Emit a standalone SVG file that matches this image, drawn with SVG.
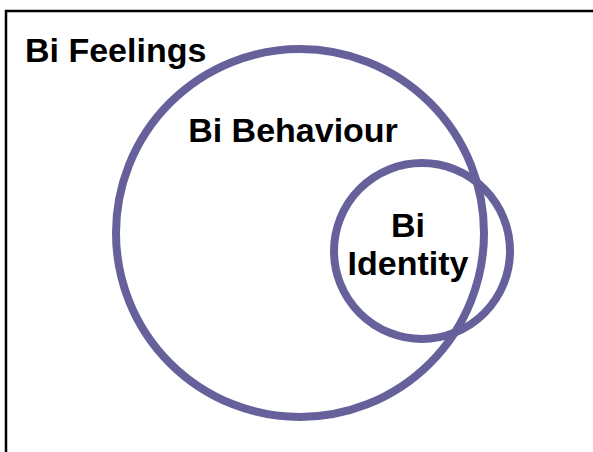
<svg xmlns="http://www.w3.org/2000/svg" width="593" height="452" viewBox="0 0 593 452">
<style>
.set{fill:none;stroke:#67619b;stroke-width:8}
.lbl{font-family:"Liberation Sans",Arial,sans-serif;font-weight:bold;font-size:34px;fill:#000}
</style>
<rect width="593" height="452" fill="#fff"/>
<g id="feelings">
<rect x="6" y="11" width="620" height="480" fill="none" stroke="#000" stroke-width="2.5"/>
<text class="lbl" x="25" y="62">Bi Feelings</text>
</g>
<g id="behaviour">
<circle class="set" cx="300" cy="233" r="184"/>
<text class="lbl" x="293" y="142" text-anchor="middle">Bi Behaviour</text>
</g>
<g id="identity">
<circle class="set" cx="422" cy="251" r="88"/>
<text class="lbl" x="408" y="237" text-anchor="middle">Bi</text>
<text class="lbl" x="408" y="275" text-anchor="middle">Identity</text>
</g>
<g id="connectors"/>
</svg>
